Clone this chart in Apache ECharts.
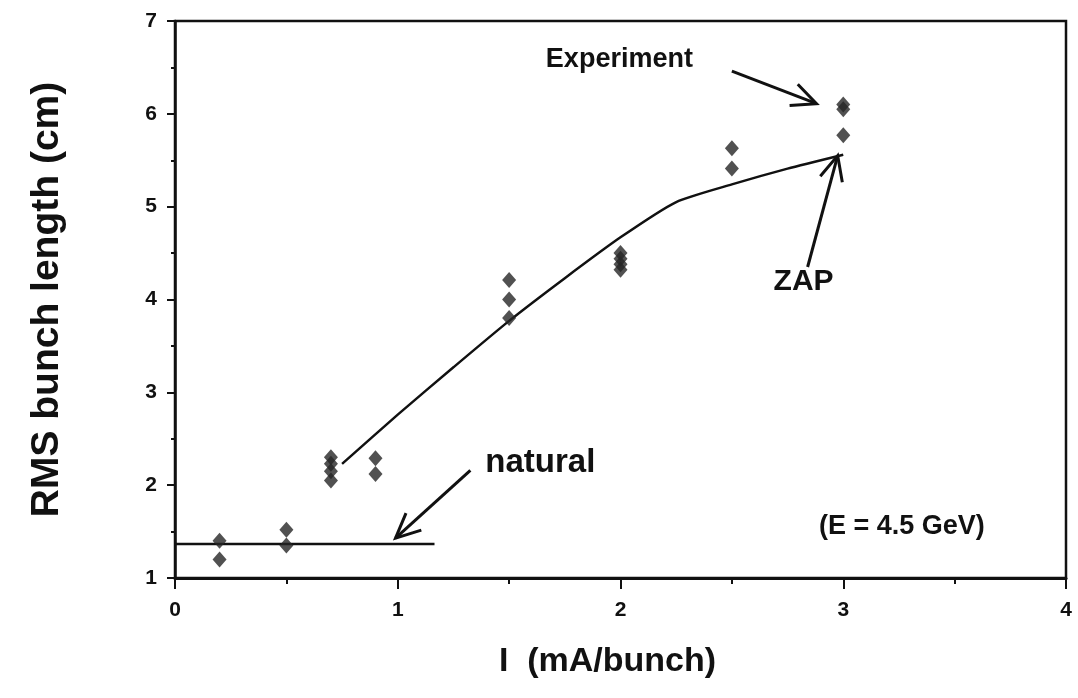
<!DOCTYPE html>
<html>
<head>
<meta charset="utf-8">
<script src="https://cdn.jsdelivr.net/npm/echarts/dist/echarts.min.js"></script>
<style>
  html, body { margin: 0; padding: 0; background: #fff; }
  #chart { width: 1078px; height: 698px; }
</style>
</head>
<body>
<div id="chart"></div>
<script>
// measured bunch length (cm) vs current (mA/bunch)
var expI = [0.2, 0.2, 0.5, 0.5, 0.7, 0.7, 0.7, 0.7, 0.9, 0.9, 1.5, 1.5, 1.5, 2, 2, 2, 2, 2.5, 2.5, 3, 3, 3]
var expSigma = [1.40, 1.20, 1.52, 1.35, 2.30, 2.23, 2.15, 2.05, 2.29, 2.12, 4.21, 4.00, 3.80, 4.50, 4.44, 4.38, 4.32, 5.63, 5.41, 6.10, 6.05, 5.77]

// ZAP calculation
var zapI = [0.75, 1, 1.25, 1.5, 1.75, 2, 2.25, 2.5, 2.75, 3]
var zapSigma = [2.23, 2.76, 3.27, 3.77, 4.23, 4.67, 5.05, 5.24, 5.41, 5.56]

// natural bunch length
var naturalI = [0, 1.165]
var naturalSigma = [1.365, 1.365]

// annotations: text and arrows [fromI, fromSigma, toI, toSigma]
var noteText = ['Experiment', 'ZAP', 'natural', '(E = 4.5 GeV)']
var noteI = [1.995, 2.822, 1.64, 3.263]
var noteSigma = [6.58, 4.19, 2.24, 1.55]
var arrows = [
  [2.5, 6.46, 2.88, 6.11],
  [2.84, 4.35, 2.975, 5.55],
  [1.326, 2.16, 0.99, 1.43]
]

var xTicks = [0, 1, 2, 3, 4]
var yTicks = [1, 2, 3, 4, 5, 6, 7]

var font = "'Liberation Sans', Arial, sans-serif"
var noteSize = [27, 30, 33, 27]

function pairs (xs, ys) {
  return xs.map(function (x, i) { return [x, ys[i]] })
}

var dom = echarts.init(document.getElementById('chart'))

var option = {
  backgroundColor: '#fff',
  animation: false,
  grid: {
    left: 175,
    right: 12,
    top: 21,
    bottom: 120,
    show: true,
    borderColor: '#111',
    borderWidth: 2.5
  },
  xAxis: {
    type: 'value',
    min: xTicks[0],
    max: xTicks[xTicks.length - 1],
    interval: 1,
    name: 'I  (mA/bunch)',
    nameLocation: 'middle',
    nameGap: 67,
    nameTextStyle: { fontFamily: font, fontWeight: 'bold', fontSize: 34, color: '#111', padding: [0, 26, 0, 0] },
    axisLine: { lineStyle: { color: '#111', width: 3 } },
    axisTick: { length: 11, lineStyle: { color: '#111', width: 2 } },
    minorTick: { show: true, splitNumber: 2, length: 6, lineStyle: { color: '#111', width: 2 } },
    splitLine: { show: false },
    axisLabel: { margin: 22, fontFamily: font, fontWeight: 'bold', fontSize: 21, color: '#111' }
  },
  yAxis: {
    type: 'value',
    min: yTicks[0],
    max: yTicks[yTicks.length - 1],
    interval: 1,
    name: 'RMS bunch length (cm)',
    nameLocation: 'middle',
    nameRotate: 90,
    nameGap: 108,
    nameTextStyle: { fontFamily: font, fontWeight: 'bold', fontSize: 39, color: '#111' },
    axisLine: { lineStyle: { color: '#111', width: 2.5 } },
    axisTick: { length: 8, lineStyle: { color: '#111', width: 2 } },
    minorTick: { show: true, splitNumber: 2, length: 4, lineStyle: { color: '#111', width: 2 } },
    splitLine: { show: false },
    axisLabel: { margin: 18, fontFamily: font, fontWeight: 'bold', fontSize: 21, color: '#111' }
  },
  series: [
    {
      name: 'ZAP',
      type: 'line',
      data: pairs(zapI, zapSigma),
      symbol: 'none',
      smooth: 0.2,
      lineStyle: { color: '#111', width: 2.5 },
      z: 2
    },
    {
      name: 'natural',
      type: 'line',
      data: pairs(naturalI, naturalSigma),
      symbol: 'none',
      lineStyle: { color: '#111', width: 2.5 },
      z: 2
    },
    {
      name: 'Experiment',
      type: 'scatter',
      data: pairs(expI, expSigma),
      symbol: 'diamond',
      symbolSize: [14, 16],
      itemStyle: { color: '#262626' },
      z: 3
    },
    {
      name: 'arrows',
      type: 'custom',
      data: arrows,
      silent: true,
      renderItem: function (params, api) {
        var p1 = api.coord([api.value(0), api.value(1)])
        var p2 = api.coord([api.value(2), api.value(3)])
        var ang = Math.atan2(p1[1] - p2[1], p1[0] - p2[0])
        var len = 27
        var spread = 25 * Math.PI / 180
        var h1 = [p2[0] + len * Math.cos(ang + spread), p2[1] + len * Math.sin(ang + spread)]
        var h2 = [p2[0] + len * Math.cos(ang - spread), p2[1] + len * Math.sin(ang - spread)]
        var style = { stroke: '#111', lineWidth: 3, fill: null }
        return {
          type: 'group',
          children: [
            { type: 'line', shape: { x1: p1[0], y1: p1[1], x2: p2[0], y2: p2[1] }, style: style },
            { type: 'polyline', shape: { points: [h1, p2, h2] }, style: style }
          ]
        }
      }
    },
    {
      name: 'notes',
      type: 'custom',
      data: noteI.map(function (x, i) { return [x, noteSigma[i], i] }),
      silent: true,
      renderItem: function (params, api) {
        var i = api.value(2)
        var p = api.coord([api.value(0), api.value(1)])
        return {
          type: 'text',
          style: {
            text: noteText[i],
            x: p[0],
            y: p[1],
            align: 'center',
            verticalAlign: 'middle',
            font: 'bold ' + noteSize[i] + 'px ' + font,
            fill: '#111'
          }
        }
      }
    }
  ]
}

dom.setOption(option)
</script>
</body>
</html>
